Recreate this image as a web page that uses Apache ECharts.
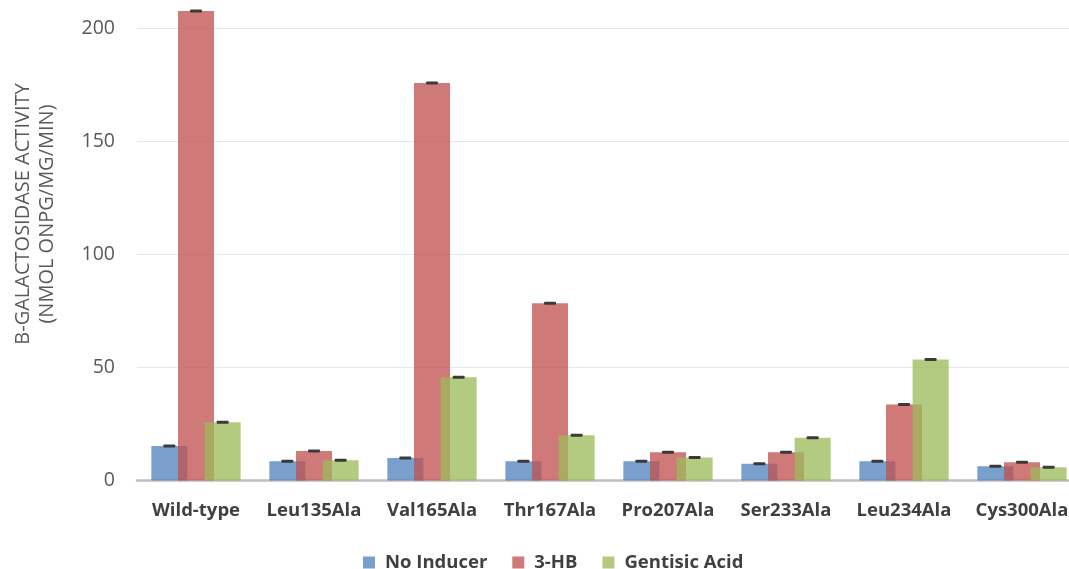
<!DOCTYPE html>
<html>
<head>
<meta charset="utf-8">
<script src="https://cdn.jsdelivr.net/npm/echarts@6/dist/echarts.min.js"></script>
<style>
  html, body { margin: 0; padding: 0; background: #fff; overflow: hidden; }
  #chart { width: 1081px; height: 569px; }
</style>
</head>
<body>
<div id="chart"></div>
<script>
// Mutant strains along the x axis
const categories = ['Wild-type', 'Leu135Ala', 'Val165Ala', 'Thr167Ala', 'Pro207Ala', 'Ser233Ala', 'Leu234Ala', 'Cys300Ala'];

// β-galactosidase activity (nmol ONPG/mg/min) per condition
const noInducer   = [15.2, 8.5, 10.0, 8.5, 8.5, 7.4, 8.5, 6.3];
const hb3         = [207.5, 13.0, 175.7, 78.3, 12.5, 12.5, 33.6, 8.1];
const gentisic    = [25.8, 9.0, 45.6, 20.0, 10.2, 18.9, 53.5, 5.9];

// Standard errors
const noInducerErr = [0.5, 0.5, 0.5, 0.5, 0.5, 0.5, 0.5, 0.5];
const hb3Err       = [0.5, 0.5, 0.5, 0.5, 0.5, 0.5, 0.5, 0.5];
const gentisicErr  = [0.5, 0.5, 0.5, 0.5, 0.5, 0.5, 0.5, 0.5];

// Value axis range and step
const yMin = 0;
const yMax = 200;
const yStep = 50;

const seriesNames = ['No Inducer', '3-HB', 'Gentisic Acid'];
const colors = ['#4F81BD', '#C0504D', '#9BBB59'];

const BAR_W = 36;
const BAR_GAP = -0.26;

const chart = echarts.init(document.getElementById('chart'), null, { renderer: 'canvas' });

function barSeries(name, values, color) {
  return {
    name: name,
    type: 'bar',
    data: values,
    barWidth: BAR_W,
    barGap: (BAR_GAP * 100) + '%',
    clip: false,
    itemStyle: { color: color, opacity: 0.76 },
    emphasis: { disabled: true },
    z: 2
  };
}

// Error caps drawn centred on each bar of the group
function errorSeries(values, errs, index) {
  const offset = (index - 1) * BAR_W * (1 + BAR_GAP);
  return {
    type: 'custom',
    data: values.map((v, i) => [i, v, errs[i]]),
    z: 5,
    silent: true,
    clip: false,
    renderItem: function (params, api) {
      const c = api.value(0), v = api.value(1), e = api.value(2);
      const hi = api.coord([c, v + e]);
      const lo = api.coord([c, v - e]);
      const cx = hi[0] + offset;
      const span = lo[1] - hi[1];
      const h = Math.max(span, 3);
      return {
        type: 'rect',
        shape: { x: cx - 6, y: hi[1] - (h - span) / 2, width: 12, height: h, r: 1 },
        style: { fill: '#3a3a3a' }
      };
    }
  };
}

const option = {
  animation: false,
  backgroundColor: '#ffffff',
  textStyle: { fontFamily: '"Open Sans", "Noto Sans", sans-serif' },
  grid: { left: 137, top: 28, right: 0, bottom: 88.5 },
  legend: {
    data: seriesNames,
    top: 548,
    left: 358,
    icon: 'rect',
    itemWidth: 12,
    itemHeight: 12,
    itemGap: 25,
    textStyle: {
      fontSize: 18.5,
      fontWeight: 'bold',
      color: '#404040',
      fontFamily: '"Open Sans", sans-serif',
      padding: [0, 0, 0, 5]
    }
  },
  xAxis: {
    type: 'category',
    data: categories,
    axisTick: { show: false },
    axisLine: { lineStyle: { color: '#bfbfbf', width: 2.5 } },
    axisLabel: {
      interval: 0,
      margin: 21,
      fontSize: 18.5,
      fontWeight: 'bold',
      color: '#404040',
      fontFamily: '"Open Sans", sans-serif'
    }
  },
  yAxis: {
    type: 'value',
    min: yMin,
    max: yMax,
    interval: yStep,
    axisLine: { show: false },
    axisTick: { show: false },
    splitLine: { lineStyle: { color: '#e8e8e8', width: 1 } },
    axisLabel: { margin: 22, fontSize: 19.5, color: '#595959', fontFamily: '"Open Sans", sans-serif' }
  },
  graphic: [{
    type: 'text',
    rotation: Math.PI / 2,
    x: 35,
    y: 214,
    style: {
      text: 'B-GALACTOSIDASE ACTIVITY\n(NMOL ONPG/MG/MIN)',
      fill: '#595959',
      font: '20px "Open Sans", sans-serif',
      align: 'center',
      verticalAlign: 'middle',
      lineHeight: 24
    }
  }],
  series: [
    barSeries(seriesNames[0], noInducer, colors[0]),
    barSeries(seriesNames[1], hb3, colors[1]),
    barSeries(seriesNames[2], gentisic, colors[2]),
    errorSeries(noInducer, noInducerErr, 0),
    errorSeries(hb3, hb3Err, 1),
    errorSeries(gentisic, gentisicErr, 2)
  ]
};

chart.setOption(option);
</script>
</body>
</html>
